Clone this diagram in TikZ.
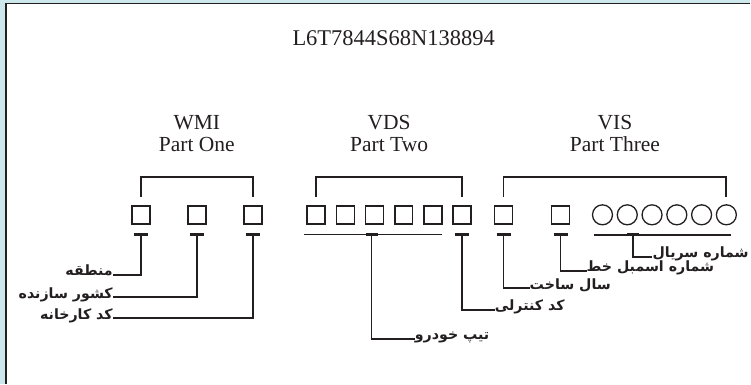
\documentclass[tikz,border=0pt]{standalone}
\usepackage{fontspec}
\setmainfont{Liberation Serif}
\newfontfamily\farsi[Script=Arabic]{DejaVu Sans}
\TeXXeTstate=1
\usetikzlibrary{positioning,calc}
\definecolor{inkblack}{RGB}{35,31,32}
\definecolor{framecyan}{RGB}{205,232,236}

\begin{document}
\begin{tikzpicture}[x=1pt, y=-1pt,
    box/.style={rectangle, draw=inkblack, line width=1.5pt, minimum size=18pt, inner sep=0pt},
    ring/.style={circle, draw=inkblack, line width=1.3pt, minimum size=20pt, inner sep=0pt},
    head/.style={anchor=base, text=inkblack, font=\fontsize{21.5}{24}\selectfont},
    tag/.style={inner sep=0pt, text=inkblack, font=\farsi\bfseries\fontsize{14.2}{16}\selectfont},
    lead/.style={draw=inkblack, line width=1.8pt},
    tbar/.style={draw=inkblack, line width=3pt}]

    % frame
    \fill[framecyan] (0,0) rectangle (751,384);
    \fill[white] (6,3.5) rectangle (751,384);
    \draw[inkblack, line width=1.3pt] (6,384) -- (6,3.5) -- (751,3.5);
    \useasboundingbox (0,0) rectangle (751,384);

    % characters
    \foreach \i/\x in {1/141,2/197,3/253}
        \node[box] (w\i) at (\x,215) {};
    \foreach \i in {1,...,6}
        \node[box] (d\i) at ({316.5+29.2*(\i-1)},215) {};
    \node[box] (v1) at (504,215) {};
    \node[box] (v2) at (561,215) {};
    \foreach \i in {1,...,6}
        \node[ring] (s\i) at ({603+24.8*(\i-1)},215) {};

    % groups
    \draw[lead] ($(w1.north)+(0,-8.5)$) -- ++(0,-19.5) -| ($(w3.north)+(0,-8.5)$);
    \draw[lead] ($(d1.north)+(0,-8.5)$) -- ++(0,-19.5) -| ($(d6.north)+(0,-8.5)$);
    \draw[lead] ($(v1.north)+(0,-8.5)$) -- ++(0,-19.5) -| ($(s6.north)+(0,-7.5)$);

    \node[head, font=\fontsize{22.5}{24}\selectfont] (vin) at (394,46) {L6T7844S68N138894};
    \node[head] (wmi) at ($(w1)!.5!(w3)+(0,-85)$) {WMI};
    \node[head] (partone) at ($(w1)!.5!(w3)+(0,-63)$) {Part One};
    \node[head] (vds) at ($(d1)!.5!(d6)+(0,-85)$) {VDS};
    \node[head] (parttwo) at ($(d1)!.5!(d6)+(0,-63)$) {Part Two};
    \node[head] (vis) at ($(v1)!.5!(s6)+(0,-85)$) {VIS};
    \node[head] (partthree) at ($(v1)!.5!(s6)+(0,-63)$) {Part Three};

    % markers under the characters
    \foreach \n in {w1,w2,w3,d6,v1,v2} {
        \coordinate (\n t) at ($(\n.south)+(0,10)$);
        \draw[tbar] ($(\n t)+(-7,0)$) -- ++(14,0);
    }
    \draw[lead] ($(d1.south west)+(-2,10)$) -- ($(d5.south east)+(-1,10)$);
    \coordinate (typet) at ($(d3.south)+(-3,10)$);
    \draw[tbar] ($(typet)+(-6,0)$) -- ++(12,0);
    \draw[lead] ($(s1.west)+(2,20)$) -- ($(s6.east)+(-6,20)$);
    \coordinate (sert) at ($(s2.center)+(5.5,20)$);
    \draw[tbar] ($(sert)+(-6,0)$) -- ++(12,0);

    % labels
    \node[tag, anchor=base east] (region) at (113,276) {\beginR منطقه\endR};
    \node[tag, anchor=base east] (country) at (113,298.5) {\beginR کشور سازنده\endR};
    \node[tag, anchor=base east] (plant) at (113,319.5) {\beginR کد کارخانه\endR};
    \node[tag, anchor=base west] (vtype) at (415,340) {\beginR تیپ خودرو\endR};
    \node[tag, anchor=base west] (check) at (495,311) {\beginR کد کنترلی\endR};
    \node[tag, anchor=base west] (year) at (530,289.5) {\beginR سال ساخت\endR};
    \node[tag, anchor=base west] (line) at (587,272) {\beginR شماره اسمبل خط\endR};
    \node[tag, anchor=base west] (serial) at (653,258) {\beginR شماره سریال\endR};

    % leaders
    \draw[lead] (w1t) |- ([yshift=1pt]region.base east);
    \draw[lead] (w2t) |- ([yshift=1pt]country.base east);
    \draw[lead] (w3t) |- ([yshift=1pt]plant.base east);
    \draw[lead] (typet) |- ([yshift=1pt]vtype.base west);
    \draw[lead] (d6t) |- ([yshift=1pt]check.base west);
    \draw[lead] (v1t) |- ([yshift=1pt]year.base west);
    \draw[lead] (v2t) |- ([yshift=1pt]line.base west);
    \draw[lead] (sert) |- ([yshift=1pt]serial.base west);
\end{tikzpicture}
\end{document}
